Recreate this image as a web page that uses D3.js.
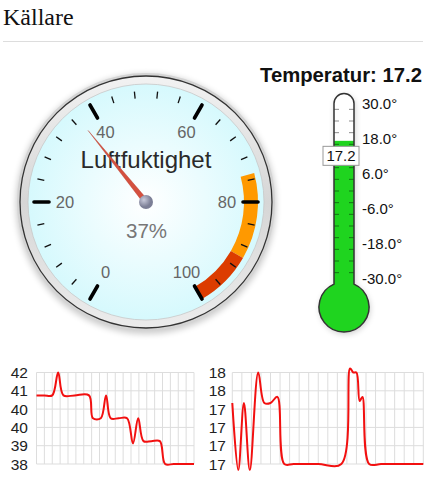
<!DOCTYPE html>
<html>
<head>
<meta charset="utf-8">
<script src="https://cdn.jsdelivr.net/npm/d3@7"></script>
<style>
  html, body { margin: 0; padding: 0; background: #fff; }
  svg { display: block; font-family: "Liberation Sans", Arial, sans-serif; }
</style>
</head>
<body>
<div id="chart"></div>
<script>
// Data
var humidityValue = 37;
var gaugeMajorTicks = [0, 20, 40, 60, 80, 100];
var gaugeBands = [
    { from: 75, to: 90, color: '#ff9900' },
    { from: 90, to: 100, color: '#dc3c00' }
];

var temperatureValue = 17.2;
var thermoLabels = [30, 18, 6, -6, -18, -30];

// sparkline: humidity over 24 h
var humHours  = [0, 1.2, 2.4, 3.3, 4.1, 5.8, 8.0, 8.6, 9.8, 10.6, 11.3, 12.5, 13.8, 14.7, 15.5, 16.3, 17.5, 18.8, 19.6, 20.9, 22.3, 24];
var humValues = [41, 41, 41, 42, 41, 41, 41, 40, 40, 41, 40, 40, 40, 38.9, 40, 39, 39, 39, 38, 38, 38, 38];
var humTicks  = [38, 38.8, 39.6, 40.4, 41.2, 42];

// sparkline: temperature over 24 h
var tempHours  = [0, 0.75, 1.46, 2.2, 3.26, 4.03, 4.8, 5.66, 6.53, 7.7, 10.8, 13.7, 14.8, 15.2, 15.6, 16.0, 16.35, 17.2, 18.7, 21.6, 24];
var tempValues = [17.5, 17.17, 17.5, 17.17, 17.65, 17.5, 17.5, 17.53, 17.2, 17.2, 17.2, 17.2, 17.67, 17.65, 17.65, 17.51, 17.53, 17.2, 17.2, 17.2, 17.2];
var tempTicks  = [17.2, 17.29, 17.38, 17.47, 17.56, 17.65];

var W = 432, H = 479;
var svg = d3.select('#chart').append('svg').attr('width', W).attr('height', H);
var defs = svg.append('defs');

// Heading
svg.append('text')
    .attr('x', 3).attr('y', 25)
    .style('font-family', '"Liberation Serif", "Times New Roman", serif')
    .style('font-size', '24px')
    .attr('fill', '#111')
    .text('Källare');
svg.append('line')
    .attr('x1', 3).attr('x2', 423).attr('y1', 41.5).attr('y2', 41.5)
    .attr('stroke', '#ddd');

// Filters / gradients
var blur = defs.append('filter').attr('id', 'shadow').attr('x', '-20%').attr('y', '-20%').attr('width', '140%').attr('height', '140%');
blur.append('feGaussianBlur').attr('stdDeviation', 3);

var bezel = defs.append('linearGradient').attr('id', 'bezel').attr('x1', 0).attr('y1', 0).attr('x2', 0).attr('y2', 1);
bezel.append('stop').attr('offset', '0%').attr('stop-color', '#f2f2f2');
bezel.append('stop').attr('offset', '50%').attr('stop-color', '#d6d6d6');
bezel.append('stop').attr('offset', '100%').attr('stop-color', '#ececec');

var face = defs.append('radialGradient').attr('id', 'face');
face.append('stop').attr('offset', '0%').attr('stop-color', '#ffffff');
face.append('stop').attr('offset', '100%').attr('stop-color', '#d6f9fd');

var pivot = defs.append('radialGradient').attr('id', 'pivot').attr('cx', '35%').attr('cy', '35%');
pivot.append('stop').attr('offset', '0%').attr('stop-color', '#c9cbdb');
pivot.append('stop').attr('offset', '100%').attr('stop-color', '#7c7f96');

// ---------- Gauge ----------
var cx = 146, cy = 202;
var angle = d3.scaleLinear().domain([0, 100]).range([-150, 150]);
function polar(v, r) {
    var a = angle(v) * Math.PI / 180;
    return [cx + r * Math.sin(a), cy - r * Math.cos(a)];
}

var gauge = svg.append('g').attr('class', 'gauge');
gauge.append('circle').attr('cx', cx).attr('cy', cy + 2).attr('r', 130)
    .attr('fill', '#000').attr('opacity', 0.2).attr('filter', 'url(#shadow)');
gauge.append('circle').attr('cx', cx).attr('cy', cy).attr('r', 129).attr('fill', '#d4d4d4');
gauge.append('circle').attr('cx', cx).attr('cy', cy).attr('r', 126)
    .attr('fill', 'url(#bezel)').attr('stroke', '#333').attr('stroke-width', 1.3);
gauge.append('circle').attr('cx', cx).attr('cy', cy).attr('r', 118)
    .attr('fill', 'url(#face)').attr('stroke', '#c8c8c8').attr('stroke-width', 0.8);

// coloured bands
var arc = d3.arc().innerRadius(98).outerRadius(112);
gauge.selectAll('path.band').data(gaugeBands).enter().append('path')
    .attr('class', 'band')
    .attr('transform', 'translate(' + cx + ',' + cy + ')')
    .attr('fill', function (d) { return d.color; })
    .attr('d', function (d) {
        return arc({ startAngle: angle(d.from) * Math.PI / 180, endAngle: angle(d.to) * Math.PI / 180 });
    });

// minor ticks
var minor = d3.range(0, 101, 4).filter(function (v) { return gaugeMajorTicks.indexOf(v) < 0; });
gauge.selectAll('line.minor').data(minor).enter().append('line')
    .attr('class', 'minor')
    .attr('x1', function (d) { return polar(d, 104)[0]; })
    .attr('y1', function (d) { return polar(d, 104)[1]; })
    .attr('x2', function (d) { return polar(d, 111)[0]; })
    .attr('y2', function (d) { return polar(d, 111)[1]; })
    .attr('stroke', '#111').attr('stroke-width', 1.3);

// major ticks
gauge.selectAll('line.major').data(gaugeMajorTicks).enter().append('line')
    .attr('class', 'major')
    .attr('x1', function (d) { return polar(d, 97)[0]; })
    .attr('y1', function (d) { return polar(d, 97)[1]; })
    .attr('x2', function (d) { return polar(d, 112)[0]; })
    .attr('y2', function (d) { return polar(d, 112)[1]; })
    .attr('stroke', '#000').attr('stroke-width', 3.6).attr('stroke-linecap', 'round');

gauge.selectAll('text.tick').data(gaugeMajorTicks).enter().append('text')
    .attr('class', 'tick')
    .attr('x', function (d) { return polar(d, 81)[0]; })
    .attr('y', function (d) { return polar(d, 81)[1]; })
    .attr('text-anchor', 'middle').attr('dominant-baseline', 'central')
    .style('font-size', '16.5px').attr('fill', '#666')
    .text(function (d) { return d; });

gauge.append('text')
    .attr('x', cx).attr('y', 168).attr('text-anchor', 'middle')
    .style('font-size', '24px').attr('fill', '#2a2a2a')
    .text('Luftfuktighet');
gauge.append('text')
    .attr('x', cx + 0.5).attr('y', 238).attr('text-anchor', 'middle')
    .style('font-size', '20.5px').attr('fill', '#777')
    .text(humidityValue + '%');

// needle
var a = angle(humidityValue) * Math.PI / 180;
var tip = polar(humidityValue, 92);
var px = Math.cos(a) * 2.6, py = Math.sin(a) * 2.6;
gauge.append('path')
    .attr('d', 'M' + (cx - px) + ',' + (cy - py) + 'L' + tip[0] + ',' + tip[1] + 'L' + (cx + px) + ',' + (cy + py) + 'Z')
    .attr('fill', '#d4503f').attr('stroke', '#b8402f').attr('stroke-width', 0.4);
gauge.append('circle').attr('cx', cx).attr('cy', cy).attr('r', 7).attr('fill', 'url(#pivot)');

// ---------- Thermometer ----------
var tx = 344, half = 10, bulbY = 307, bulbR = 25;
var yT = d3.scaleLinear().domain([-30, 30]).range([278.5, 103.5]);
var joinY = bulbY - Math.sqrt(bulbR * bulbR - half * half);
var outline = 'M' + (tx - half) + ',' + joinY +
    'L' + (tx - half) + ',' + yT(30) +
    'A' + half + ',' + half + ' 0 0 1 ' + (tx + half) + ',' + yT(30) +
    'L' + (tx + half) + ',' + joinY +
    'A' + bulbR + ',' + bulbR + ' 0 1 1 ' + (tx - half) + ',' + joinY + 'Z';

var thermo = svg.append('g').attr('class', 'thermo');
thermo.append('text')
    .attr('x', 260).attr('y', 82)
    .style('font-size', '20.3px').style('font-weight', 'bold').attr('fill', '#111')
    .text('Temperatur: ' + temperatureValue);

thermo.append('path').attr('d', outline).attr('fill', '#000').attr('opacity', 0.2)
    .attr('transform', 'translate(1,2)').attr('filter', 'url(#shadow)');
defs.append('clipPath').attr('id', 'tube').append('path').attr('d', outline);
thermo.append('path').attr('d', outline).attr('fill', '#fff');
thermo.append('rect')
    .attr('clip-path', 'url(#tube)')
    .attr('x', tx - bulbR).attr('width', bulbR * 2)
    .attr('y', yT(temperatureValue)).attr('height', bulbY + bulbR - yT(temperatureValue))
    .attr('fill', '#1fd41f');

var dashes = d3.range(28, -29, -4);
thermo.selectAll('line.dl').data(dashes).enter().append('line')
    .attr('x1', tx - half).attr('x2', tx - half + 5)
    .attr('y1', function (d) { return yT(d); }).attr('y2', function (d) { return yT(d); })
    .attr('stroke', '#000').attr('stroke-opacity', 0.45);
thermo.selectAll('line.dr').data(dashes).enter().append('line')
    .attr('x1', tx + half - 5).attr('x2', tx + half)
    .attr('y1', function (d) { return yT(d); }).attr('y2', function (d) { return yT(d); })
    .attr('stroke', '#000').attr('stroke-opacity', 0.45);

thermo.append('path').attr('d', outline).attr('fill', 'none').attr('stroke', '#333').attr('stroke-width', 1.5);

thermo.selectAll('text.lab').data(thermoLabels).enter().append('text')
    .attr('x', 362).attr('y', function (d) { return yT(d); })
    .attr('dominant-baseline', 'central')
    .style('font-size', '15px').attr('fill', '#111')
    .text(function (d) { return d3.format('.1f')(d).replace('\u2212', '-') + '°'; });

var boxY = yT(temperatureValue) + 5.5;
thermo.append('rect').attr('x', 323).attr('y', boxY).attr('width', 36).attr('height', 19)
    .attr('fill', '#fff').attr('stroke', '#999');
thermo.append('text').attr('x', 341).attr('y', boxY + 9.5)
    .attr('text-anchor', 'middle').attr('dominant-baseline', 'central')
    .style('font-size', '15px').attr('fill', '#111')
    .text(temperatureValue);

// ---------- Sparklines ----------
function sparkline(hours, values, ticks, left, right, labelX) {
    var top = 372.5, bottom = 464;
    var x = d3.scaleLinear().domain([0, 24]).range([left, right]);
    var y = d3.scaleLinear().domain([ticks[0], ticks[ticks.length - 1]]).range([bottom, top]);
    var g = svg.append('g').attr('class', 'spark');

    g.selectAll('line.v').data(d3.range(0, 21)).enter().append('line')
        .attr('x1', function (d) { return x(d * 1.2); }).attr('x2', function (d) { return x(d * 1.2); })
        .attr('y1', top).attr('y2', bottom)
        .attr('stroke', '#ddd');
    g.selectAll('line.h').data(ticks).enter().append('line')
        .attr('x1', left).attr('x2', right)
        .attr('y1', function (d) { return y(d); }).attr('y2', function (d) { return y(d); })
        .attr('stroke', '#ddd');
    g.selectAll('text').data(ticks).enter().append('text')
        .attr('x', labelX).attr('y', function (d) { return y(d); })
        .attr('text-anchor', 'end').attr('dominant-baseline', 'central')
        .style('font-size', '15.5px').attr('fill', '#222')
        .text(d3.format('.0f'));

    var line = d3.line()
        .x(function (d, i) { return x(hours[i]); })
        .y(function (d) { return y(d); })
        .curve(d3.curveCatmullRom.alpha(0.5));
    g.append('path').datum(values).attr('d', line)
        .attr('fill', 'none').attr('stroke', '#f21010').attr('stroke-width', 2);
}

sparkline(humHours, humValues, humTicks, 36.5, 194, 28);
sparkline(tempHours, tempValues, tempTicks, 232.3, 423.3, 226);
</script>
</body>
</html>
